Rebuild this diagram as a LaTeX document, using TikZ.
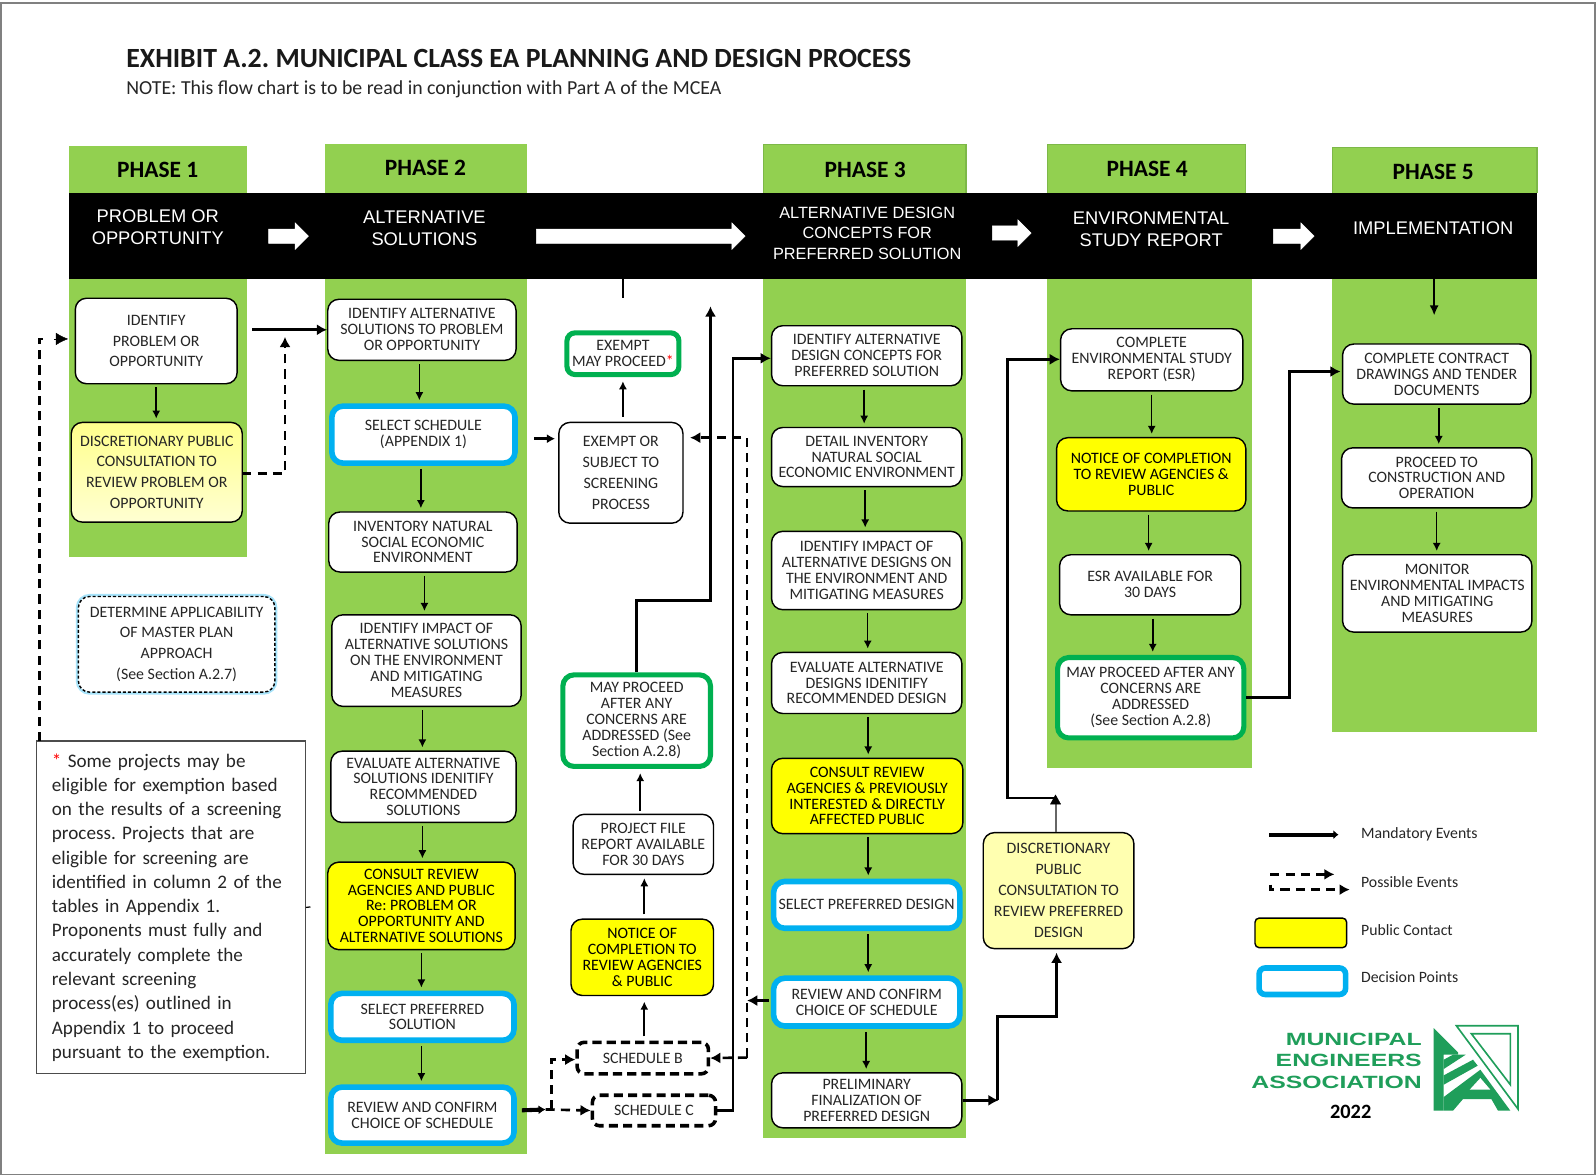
\documentclass[tikz,border=0pt]{standalone}
\usepackage{fontspec}
\usetikzlibrary{arrows.meta}
\setmainfont{Carlito}
\newfontfamily\bandfont{Liberation Sans}
\newfontfamily\logofont[FakeStretch=1.4]{Liberation Sans}
\definecolor{leaf}{HTML}{92D050}
\definecolor{leafedge}{HTML}{7DB848}
\definecolor{skyb}{HTML}{00B0F0}
\definecolor{greenb}{HTML}{00B050}
\definecolor{paleY}{HTML}{FFFFB0}
\definecolor{pureY}{HTML}{FFFF00}
\definecolor{logog}{HTML}{1F9E5A}
\definecolor{inkt}{HTML}{262626}
\definecolor{redmark}{HTML}{FF0000}
\definecolor{HTMLtop}{HTML}{FFFF8C}
\definecolor{HTMLbot}{HTML}{FFFFD2}
\tikzset{
 x=1pt,y=-1pt,
 box/.style={draw=black,line width=1.4pt,rounded corners=11pt,fill=white,align=center,inner sep=0pt,text=inkt,font=\fontsize{15.6}{15.6}\selectfont},
 loose/.style={font=\fontsize{15.6}{20.5}\selectfont},
 yellowb/.style={fill=pureY,text=black},
 pale/.style={fill=paleY},
 paleg/.style={shading=axis,top color=HTMLtop,bottom color=HTMLbot},
 blueb/.style={draw=skyb,line width=5.5pt},
 greenbx/.style={draw=greenb,line width=5pt},
 schedb/.style={line width=3.5pt,dash pattern=on 9pt off 5pt,rounded corners=7pt},
 glow/.style={dash pattern=on 3pt off 2pt,preaction={draw=skyb!35,line width=5pt,solid}},
 thinarr/.style={draw=black,line width=1.5pt,-{Latex[length=8pt,width=8pt]}},
 fatarr/.style={draw=black,line width=3pt,-{Latex[length=10pt,width=11pt]}},
 dasharr/.style={draw=black,line width=2.6pt,dash pattern=on 9pt off 6pt,-{Latex[length=10pt,width=11pt]}},
 dashline/.style={draw=black,line width=2.6pt,dash pattern=on 9pt off 6pt},
 band/.style={text=white,align=center,inner sep=0pt,font=\bandfont\fontsize{18}{21.5}\selectfont},
 phasehd/.style={inner sep=0pt,text=black,font=\bfseries\fontsize{23}{24}\selectfont},
 legendt/.style={anchor=west,inner sep=0pt,text=inkt,font=\fontsize{15.5}{16}\selectfont},
 logot/.style={anchor=east,inner sep=0pt,text=logog,font=\logofont\bfseries\fontsize{17.4}{18}\selectfont},
 whitearrow/.style={fill=white,draw=white,line width=.5pt},
}
\newcommand\bx[7][]{%
 \pgfmathsetmacro\bxw{#5-#3}\pgfmathsetmacro\bxh{#6-#4}%
 \pgfmathsetmacro\bxx{(#3+#5)/2}\pgfmathsetmacro\bxy{(#4+#6)/2}%
 \node[box,minimum width=\bxw pt,minimum height=\bxh pt,#1] (#2) at (\bxx,\bxy) {#7};}
\newcommand\dn[3][0]{\draw[thinarr,shorten <=3pt,shorten >=3pt] ([xshift=#1pt]#2.south) -- ([xshift=#1pt]#2.south |- #3.north);}
\newcommand\blockarrow[3]{% x1, x2, y
 \pgfmathsetmacro\ba{#2-13}\pgfmathsetmacro\bu{#3-7}\pgfmathsetmacro\bd{#3+7}%
 \pgfmathsetmacro\bt{#3-13}\pgfmathsetmacro\bb{#3+13}%
 \draw[whitearrow] (#1,\bu) -- (\ba,\bu) -- (\ba,\bt) -- (#2,#3) -- (\ba,\bb) -- (\ba,\bd) -- (#1,\bd) -- cycle;}
\begin{document}
\frenchspacing
\begin{tikzpicture}
\useasboundingbox (0,0) rectangle (1568,1155);
\fill[white] (0,0) rectangle (1568,1155);
\draw[gray,line width=1.5pt] (1,3) rectangle (1567,1154);
% title
\node[anchor=west,inner sep=0pt,text=black!90,font=\bfseries\fontsize{27.3}{28}\selectfont] (title) at (124,57) {EXHIBIT A.2. MUNICIPAL CLASS EA PLANNING AND DESIGN PROCESS};
\node[anchor=west,inner sep=0pt,text=inkt,font=\fontsize{19.5}{20}\selectfont] (subtitle) at (124,87.5) {NOTE: This flow chart is to be read in conjunction with Part A of the MCEA};
% green columns
\fill[leaf] (68,143) rectangle (243,547);
\fill[leaf] (319,141) rectangle (518,1134);
\fill[leaf] (750,142) rectangle (949,1118);
\fill[leaf] (1029,142) rectangle (1224,274);
\fill[leaf] (1029,274) rectangle (1230,755);
\fill[leaf] (1309,145) rectangle (1510,719);
\draw[leafedge,line width=1.2pt] (750,190) -- (750,142) -- (949,142) -- (949,190);
\draw[leafedge,line width=1.2pt] (1029,190) -- (1029,142) -- (1224,142) -- (1224,190);
\draw[leafedge,line width=1.2pt] (1309,190) -- (1309,145) -- (1510,145) -- (1510,190);
% black band
\fill[black] (68,190) rectangle (1510,274);
\node[phasehd] (ph1) at (155,167) {PHASE 1};
\node[phasehd] (ph2) at (418,165) {PHASE 2};
\node[phasehd] (ph3) at (850,167) {PHASE 3};
\node[phasehd] (ph4) at (1127,166) {PHASE 4};
\node[phasehd] (ph5) at (1408,169) {PHASE 5};
\node[band] (b1) at (155,223) {PROBLEM OR\\OPPORTUNITY};
\node[band] (b2) at (417,224) {ALTERNATIVE\\SOLUTIONS};
\node[band,font=\bandfont\fontsize{16}{20}\selectfont] (b3) at (852,229) {ALTERNATIVE DESIGN\\CONCEPTS FOR\\PREFERRED SOLUTION};
\node[band] (b4) at (1131,225) {ENVIRONMENTAL\\STUDY REPORT};
\node[band] (b5) at (1408,224) {IMPLEMENTATION};
\blockarrow{264}{303}{232}
\blockarrow{527}{732}{232}
\blockarrow{975}{1013}{229}
\blockarrow{1251}{1291}{232}
% phase 1
\bx[loose]{ip}{74}{293}{233}{377}{IDENTIFY\\PROBLEM OR\\OPPORTUNITY}
\bx[loose,paleg]{dp}{70}{415}{238}{513}{DISCRETIONARY PUBLIC\\CONSULTATION TO\\REVIEW PROBLEM OR\\OPPORTUNITY}
\bx[loose,glow]{mp}{77}{586}{270}{680}{DETERMINE APPLICABILITY\\OF MASTER PLAN\\APPROACH\\(See Section A.2.7)}
% note
\node[draw=black!70,line width=1.2pt,fill=white,minimum width=264pt,minimum height=327pt,inner sep=0pt,text width=234pt,align=left,text=inkt,font=\fontsize{18.8}{23.85}\selectfont] (note) at (168,891.5) {\textcolor{redmark}{*} Some projects may be\\eligible for exemption based\\on the results of a screening\\process. Projects that are\\eligible for screening are\\identified in column 2 of the\\tables in Appendix 1.\\Proponents must fully and\\accurately complete the\\relevant screening\\process(es) outlined in\\Appendix 1 to proceed\\pursuant to the exemption.};
% phase 2
\bx{ia}{322}{294}{507}{354}{IDENTIFY ALTERNATIVE\\SOLUTIONS TO PROBLEM\\OR OPPORTUNITY}
\bx[blueb]{ss}{326}{399}{506}{455}{SELECT SCHEDULE\\(APPENDIX 1)}
\bx{inv}{323}{503}{508}{562}{INVENTORY NATURAL\\SOCIAL ECONOMIC\\ENVIRONMENT}
\bx{imp}{326}{604}{512}{694}{IDENTIFY IMPACT OF\\ALTERNATIVE SOLUTIONS\\ON THE ENVIRONMENT\\AND MITIGATING\\MEASURES}
\bx{ev}{325}{738}{507}{808}{EVALUATE ALTERNATIVE\\SOLUTIONS IDENITIFY\\RECOMMENDED\\SOLUTIONS}
\bx[yellowb]{con}{322}{847}{506}{933}{CONSULT REVIEW\\AGENCIES AND PUBLIC\\Re: PROBLEM OR\\OPPORTUNITY AND\\ALTERNATIVE SOLUTIONS}
\bx[blueb]{sps}{325}{976}{505}{1022}{SELECT PREFERRED\\SOLUTION}
\bx[blueb]{rev}{325}{1068}{505}{1123}{REVIEW AND CONFIRM\\CHOICE OF SCHEDULE}
% middle column
\bx[greenbx,rounded corners=8pt]{emp}{557}{327}{667}{368}{EXEMPT\\MAY PROCEED\textcolor{redmark}{*}}
\bx[loose]{eos}{549}{415}{671}{514}{EXEMPT OR\\SUBJECT TO\\SCREENING\\PROCESS}
\bx[greenbx]{mpc}{553}{663}{698}{753}{MAY PROCEED\\AFTER ANY\\CONCERNS ARE\\ADDRESSED (See\\Section A.2.8)}
\bx{pfr}{563}{800}{701}{859}{PROJECT FILE\\REPORT AVAILABLE\\FOR 30 DAYS}
\bx[yellowb]{noc}{561}{903}{701}{978}{NOTICE OF\\COMPLETION TO\\REVIEW AGENCIES\\\& PUBLIC}
\bx[schedb]{sb}{567}{1024}{696}{1055}{SCHEDULE B}
\bx[schedb]{sc}{582}{1076}{703}{1106}{SCHEDULE C}
% phase 3
\bx{ad}{758}{320}{945}{379}{IDENTIFY ALTERNATIVE\\DESIGN CONCEPTS FOR\\PREFERRED SOLUTION}
\bx{di}{758}{420}{945}{478}{DETAIL INVENTORY\\NATURAL SOCIAL\\ECONOMIC ENVIRONMENT}
\bx{id}{758}{522}{945}{599}{IDENTIFY IMPACT OF\\ALTERNATIVE DESIGNS ON\\THE ENVIRONMENT AND\\MITIGATING MEASURES}
\bx{ed}{758}{641}{945}{701}{EVALUATE ALTERNATIVE\\DESIGNS IDENITIFY\\RECOMMENDED DESIGN}
\bx[yellowb]{cr}{758}{745}{946}{819}{CONSULT REVIEW\\AGENCIES \& PREVIOUSLY\\INTERESTED \& DIRECTLY\\AFFECTED PUBLIC}
\bx[blueb]{spd}{760}{866}{943}{912}{SELECT PREFERRED DESIGN}
\bx[blueb]{rc}{760}{961}{943}{1008}{REVIEW AND CONFIRM\\CHOICE OF SCHEDULE}
\bx{pf}{758}{1054}{945}{1108}{PRELIMINARY\\FINALIZATION OF\\PREFERRED DESIGN}
\bx[loose,pale]{dpd}{966}{818}{1114}{932}{DISCRETIONARY\\PUBLIC\\CONSULTATION TO\\REVIEW PREFERRED\\DESIGN}
% phase 4
\bx{esr}{1042}{323}{1221}{384}{COMPLETE\\ENVIRONMENTAL STUDY\\REPORT (ESR)}
\bx[yellowb]{nc4}{1038}{430}{1224}{502}{NOTICE OF COMPLETION\\TO REVIEW AGENCIES \&\\PUBLIC}
\bx{av}{1041}{545}{1219}{604}{ESR AVAILABLE FOR\\30 DAYS}
\bx[greenbx]{mp4}{1039}{646}{1222}{725}{MAY PROCEED AFTER ANY\\CONCERNS ARE\\ADDRESSED\\(See Section A.2.8)}
% phase 5
\bx{cc}{1319}{338}{1504}{397}{COMPLETE CONTRACT\\DRAWINGS AND TENDER\\DOCUMENTS}
\bx{pc}{1318}{440}{1505}{499}{PROCEED TO\\CONSTRUCTION AND\\OPERATION}
\bx{mon}{1319}{545}{1505}{621}{MONITOR\\ENVIRONMENTAL IMPACTS\\AND MITIGATING\\MEASURES}
% free ends
\coordinate (bandA) at (612,274);
\coordinate (bandB) at (612,293);
\coordinate (bandC) at (1409,274);
\coordinate (bandD) at (1409,310);
\coordinate (upEnd) at (698,301);
\coordinate (dashTop) at (734,430);
\coordinate (dashBot) at (734,1039);
\coordinate (sideEnd) at (734,983);
\coordinate (noteUp) at (38.5,728);
\coordinate (noteCorner) at (38.5,333);
\coordinate (ipArrow) at (67,333);
% vertical flow
\dn{ip}{dp}
\dn[-2.5]{ia}{ss}
\dn[-2.5]{ss}{inv}
\dn[1.5]{inv}{imp}
\dn[-4]{imp}{ev}
\dn[-1]{ev}{con}
\dn{con}{sps}
\dn[-1]{sps}{rev}
\dn[-2.5]{ad}{di}
\dn[-1.5]{di}{id}
\dn[1]{id}{ed}
\dn[1.5]{ed}{cr}
\dn[1]{cr}{spd}
\dn[1.5]{spd}{rc}
\dn[-.5]{rc}{pf}
\dn{esr}{nc4}
\dn[-2.5]{nc4}{av}
\dn[2.5]{av}{mp4}
\dn[2]{cc}{pc}
\dn{pc}{mon}
% upward middle flow
\draw[thinarr,line width=2pt,shorten <=5pt,shorten >=4pt] ([xshift=2pt]eos.north) -- ([xshift=2pt]eos.north |- emp.south);
\draw[thinarr,line width=2pt,shorten <=4pt,shorten >=6pt] (sb.north -| 633,0) -- (633,978);
\draw[thinarr,line width=2pt,shorten <=4pt,shorten >=3pt] ([xshift=2pt]noc.north) -- ([xshift=2pt]noc.north |- pfr.south);
\draw[thinarr,line width=2pt,shorten <=3pt,shorten >=4pt] ([xshift=-3pt]pfr.north) -- ([xshift=-3pt]pfr.north |- mpc.south);
\draw[line width=2.4pt] (bandA) -- (bandB);
\draw[thinarr,line width=2.4pt,-{Latex[length=10pt,width=9pt]}] (bandC) -- (bandD);
\draw[fatarr,line width=3pt] (mpc.north -| 625,0) -- (625,590) -- (698,590) -- (upEnd);
% top thick
\draw[fatarr,shorten <=14pt] (ip.east |- ia.west) -- (ia.west);
\draw[dasharr] (238,465) -- (280,465) -- (280,331);
\draw[dashline] (noteUp) -- (noteCorner) -- (46,333);
\draw[draw=black,-{Latex[length=12pt,width=12pt]}] (53,333) -- (ipArrow);
% select schedule to exempt
\draw[fatarr,-{Latex[length=8pt,width=9pt]},shorten <=16pt,shorten >=3pt] (ss.east |- 0,431) -- (eos.west |- 0,431);
% possible events right side
\draw[dashline,-{Latex[length=10pt,width=11pt]}] (dashBot) -- (dashTop) -- (678,430);
\draw[dashline,-{Latex[length=10pt,width=11pt]}] (dashBot) -- (sb.east);
\draw[fatarr,line width=2.4pt] (sc.east) -- (720,1091) -- (720,352) -- (ad.west |- 0,352);
\draw[fatarr,shorten <=2pt] (rc.west |- sideEnd) -- (sideEnd);
% schedule fan-out
\draw[fatarr,line width=4pt,-{Latex[length=7pt,width=9pt]},shorten <=5pt] (rev.east |- sc.west) -- (536,1090);
\draw[dasharr] (536,1090) -- (sc.west);
\draw[dasharr] (541.5,1090) -- (541.5,1041) -- (sb.west |- 0,1041);
% phase 3 to 4
\draw[fatarr] (pf.east) -- (981,1081);
\draw[fatarr] (980,1081) -- (980,999) -- (1038,999) -- (1038,936);
\draw[draw=black!60,line width=2pt] (dpd.north -| 1037,0) -- (1037,790);
\draw[draw=black,fill=black] (1037,781) -- (1042,790) -- (1032,790) -- cycle;
\draw[fatarr,line width=2.6pt] (1037,784) -- (990,784) -- (990,353) -- (esr.west |- 0,353);
\draw[fatarr,line width=2.6pt] (mp4.east |- 0,685) -- (1267,685) -- (1267,365) -- (1317,365);
% note tick
\draw[black,line width=1.2pt] (note.east) -- (305,891);
% legend
\coordinate (la) at (1247,820);
\coordinate (lb) at (1315,820);
\draw[fatarr,line width=4pt,-{Latex[length=5pt,width=9pt]}] (la) -- (lb);
\node[legendt] (l1) at (1337,820) {Mandatory Events};
\coordinate (lc) at (1248,859);
\coordinate (ld) at (1311,859);
\draw[dasharr] (lc) -- (ld);
\coordinate (le) at (1248,869);
\coordinate (lf) at (1326,874);
\draw[dasharr] (le) -- (1248,874) -- (lf);
\node[legendt] (l2) at (1337,867) {Possible Events};
\bx[yellowb,rounded corners=4pt]{lpc}{1233}{902}{1323}{931}{}
\node[legendt] (l3) at (1337,914) {Public Contact};
\bx[blueb,rounded corners=6pt]{ldp}{1237}{951}{1322}{977}{}
\node[legendt] (l4) at (1337,960) {Decision Points};
% logo
\node[logot] (lg1) at (1397,1021) {MUNICIPAL};
\node[logot] (lg2) at (1397,1042) {ENGINEERS};
\node[logot] (lg3) at (1397,1063) {ASSOCIATION};
\node[inner sep=0pt,text=black,font=\bfseries\fontsize{20}{22}\selectfont] (yr) at (1327,1092) {2022};
\begin{scope}[shift={(1218,992)},x=.3274pt,y=-.3274pt]
 \fill[logog] (582,55) -- (655,128) -- (655,135) -- (612,135) -- (612,303) -- (582,303) -- cycle;
 \fill[logog] (612,150) -- (640,135) -- (678,135) -- (612,178) -- cycle;
 \fill[logog] (612,197) -- (700,150) -- (714,168) -- (612,225) -- cycle;
 \fill[logog] (612,262) -- (722,180) -- (812,303) -- (775,303) -- (755,268) -- (670,268) -- (640,303) -- (612,303) -- cycle;
 \fill[white] (690,240) -- (752,240) -- (722,205) -- cycle;
 \draw[logog,line width=1.6pt] (650,48) -- (835,48) -- (835,298) -- cycle;
 \draw[logog,line width=1.6pt] (695,72) -- (812,72) -- (812,225) -- cycle;
\end{scope}
\end{tikzpicture}
\end{document}
